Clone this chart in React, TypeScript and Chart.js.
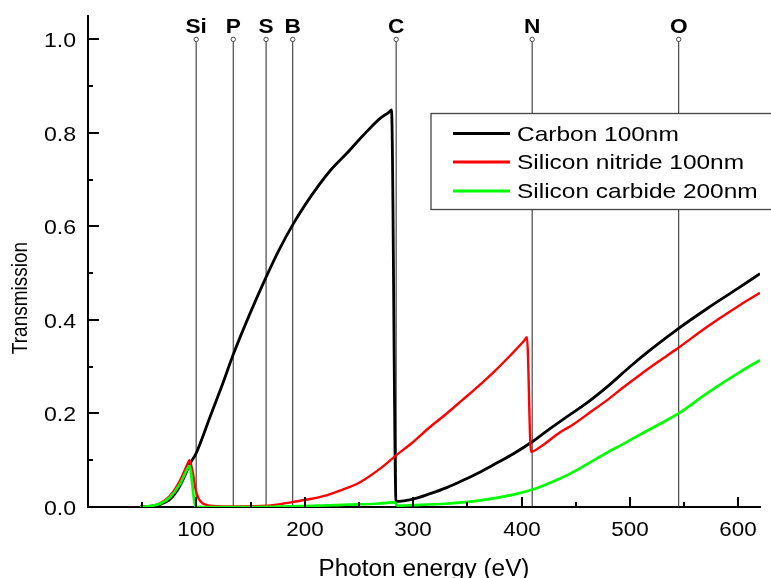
import React, { useEffect, useRef } from "react";
import { Chart, registerables } from "chart.js";

Chart.register(...registerables);

// ---------- data ----------
const carbonE = [48, 60, 66, 75, 82, 88, 94, 99.8, 113, 124, 134, 149.5, 164, 177, 189.5, 200, 212, 223, 239, 254, 269.5, 277.5, 280, 284.2, 300, 315, 331, 346, 362, 377, 392.5, 409.5, 420, 440, 460, 480, 500, 520, 545, 571, 600, 620];
const carbonT = [0, 0.002, 0.005, 0.015, 0.034, 0.06, 0.092, 0.115, 0.195, 0.262, 0.326, 0.414, 0.49, 0.553, 0.606, 0.645, 0.685, 0.718, 0.757, 0.795, 0.831, 0.844, 0.849, 0.012, 0.017, 0.028, 0.0415, 0.057, 0.075, 0.094, 0.114, 0.139, 0.157, 0.19, 0.222, 0.259, 0.3, 0.338, 0.382, 0.424, 0.468, 0.499];

const nitrideE = [48, 60, 66.4, 75.7, 85, 92, 93.5, 97, 99, 102, 106.4, 116, 130, 160, 174, 189.5, 205, 220, 235, 251, 269.5, 284, 300, 315, 331, 345, 360, 375, 390, 402.5, 405, 408.7, 417, 435.6, 448, 463, 478.7, 494, 509.5, 527, 545, 571, 601.7, 620];
const nitrideT = [0, 0.003, 0.008, 0.024, 0.057, 0.093, 0.1, 0.07, 0.04, 0.018, 0.007, 0.002, 0.001, 0.002, 0.005, 0.011, 0.017, 0.025, 0.037, 0.053, 0.082, 0.11, 0.139, 0.17, 0.2, 0.228, 0.258, 0.29, 0.325, 0.356, 0.363, 0.118, 0.128, 0.16, 0.177, 0.202, 0.228, 0.256, 0.283, 0.312, 0.341, 0.385, 0.432, 0.458];

const carbideE = [48, 60, 66.4, 75.7, 85, 92, 93.5, 99.3, 110, 150, 200, 240, 265, 283, 285.5, 300, 330, 362, 392.5, 409.5, 417, 435.6, 448, 463, 478.7, 494, 509.5, 527, 545, 571, 601.7, 620];
const carbideT = [0, 0.003, 0.007, 0.021, 0.05, 0.083, 0.088, 0.001, 0, 0, 0.002, 0.005, 0.007, 0.01, 0.003, 0.004, 0.007, 0.014, 0.0265, 0.037, 0.043, 0.061, 0.075, 0.095, 0.116, 0.135, 0.155, 0.177, 0.2, 0.243, 0.289, 0.314];

const seriesLabels = ["Carbon 100nm", "Silicon nitride 100nm", "Silicon carbide 200nm"];
const seriesColors = ["#000000", "#ff0000", "#00ff00"];

const edgeNames = ["Si", "P", "S", "B", "C", "N", "O"];
const edgeE = [99.8, 134, 164.3, 188.9, 284.3, 409.8, 545];

const xTitle = "Photon energy (eV)";
const yTitle = "Transmission";

const FONT = '"Liberation Sans", Arial, Helvetica, sans-serif';

function toPts(xs: number[], ys: number[]) {
  return xs.map((x, i) => ({ x, y: ys[i] }));
}

function sText(ctx: CanvasRenderingContext2D, text: string, x: number, y: number, align: CanvasTextAlign, sx: number, font: string, color = "#000") {
  ctx.save();
  ctx.translate(x, y);
  ctx.scale(sx, 1);
  ctx.font = font;
  ctx.fillStyle = color;
  ctx.textAlign = align;
  ctx.textBaseline = "alphabetic";
  ctx.fillText(text, 0, 0);
  ctx.restore();
}

const decorPlugin = {
  id: "decor",
  afterDraw(chart: any) {
    const ctx: CanvasRenderingContext2D = chart.ctx;
    const xs = chart.scales.x;
    const ys = chart.scales.y;
    const area = chart.chartArea;
    ctx.save();
    ctx.strokeStyle = "#000";
    ctx.lineWidth = 2;
    // x ticks (inside) + labels
    xs.ticks.forEach((t: any) => {
      const v = t.value;
      if (v <= 0 || v > 620) return;
      const major = Math.round(v) % 100 === 0;
      const px = Math.round(xs.getPixelForValue(v));
      const len = major ? 10 : 5;
      ctx.beginPath();
      ctx.moveTo(px, area.bottom);
      ctx.lineTo(px, area.bottom - len);
      ctx.stroke();
      if (major) sText(ctx, String(Math.round(v)), px, 536, "center", 1.12, `20px ${FONT}`);
    });
    // y ticks (inside) + labels
    ys.ticks.forEach((t: any) => {
      const v = t.value;
      const tenth = Math.round(v * 10);
      if (tenth > 10) return;
      const major = tenth % 2 === 0;
      const py = Math.round(ys.getPixelForValue(v));
      if (tenth > 0) {
        const len = major ? 11 : 5;
        ctx.beginPath();
        ctx.moveTo(area.left, py);
        ctx.lineTo(area.left + len, py);
        ctx.stroke();
      }
      if (major) sText(ctx, (tenth / 10).toFixed(1), 76, py + 7.5, "right", 1.1, `21px ${FONT}`);
    });
    // edge labels
    edgeNames.forEach((n, i) => {
      const px = xs.getPixelForValue(edgeE[i]);
      sText(ctx, n, px, 33, "center", 1.08, `bold 21px ${FONT}`);
    });
    // axis titles
    sText(ctx, xTitle, (area.left + area.right) / 2, 576, "center", 1.035, `23.5px ${FONT}`);
    ctx.save();
    ctx.translate(21, 298);
    ctx.rotate(-Math.PI / 2);
    ctx.scale(1, 1.15);
    ctx.font = `19px ${FONT}`;
    ctx.fillStyle = "#000";
    ctx.textAlign = "center";
    ctx.textBaseline = "middle";
    ctx.fillText(yTitle, 0, 0);
    ctx.restore();
    // legend
    const lx = 431, ly = 113.5, lw = 345, lh = 96;
    ctx.fillStyle = "#fff";
    ctx.fillRect(lx, ly, lw, lh);
    ctx.strokeStyle = "#444";
    ctx.lineWidth = 1.3;
    ctx.strokeRect(lx, ly, lw, lh);
    const rowY = [133.5, 162, 191];
    seriesLabels.forEach((lab, i) => {
      ctx.strokeStyle = seriesColors[i];
      ctx.lineWidth = 3;
      ctx.beginPath();
      ctx.moveTo(453, rowY[i]);
      ctx.lineTo(510, rowY[i]);
      ctx.stroke();
      sText(ctx, lab, 517, rowY[i] + 7, "left", 1.165, `21px ${FONT}`);
    });
    ctx.restore();
  },
};

export default function App() {
  const ref = useRef<HTMLCanvasElement>(null);
  useEffect(() => {
    if (!ref.current) return;
    const edgeSets = edgeE.map((e) => ({
      type: "line" as const,
      data: [{ x: e, y: 0 }, { x: e, y: 1.0 }],
      borderColor: "#222",
      borderWidth: 1,
      pointRadius: [0, 2.2],
      pointBackgroundColor: "#fff",
      pointBorderColor: "#444",
      pointBorderWidth: 1,
      order: 10,
    }));
    const common = { pointRadius: 0, cubicInterpolationMode: "monotone" as const };
    const chart = new Chart(ref.current, {
      type: "line",
      data: {
        datasets: [
          { label: seriesLabels[0], data: toPts(carbonE, carbonT), borderColor: seriesColors[0], borderWidth: 2.8, order: 3, ...common },
          { label: seriesLabels[1], data: toPts(nitrideE, nitrideT), borderColor: seriesColors[1], borderWidth: 2.4, order: 2, ...common },
          { label: seriesLabels[2], data: toPts(carbideE, carbideT), borderColor: seriesColors[2], borderWidth: 2.7, order: 1, ...common },
          ...edgeSets,
        ] as any,
      },
      options: {
        responsive: false,
        animation: false,
        layout: { padding: { left: 0, right: 11, top: 16, bottom: 0 } },
        plugins: { legend: { display: false }, tooltip: { enabled: false } },
        scales: {
          x: {
            type: "linear",
            min: 0,
            max: 620,
            ticks: { display: false, stepSize: 50, includeBounds: false },
            grid: { display: false },
            border: { display: true, color: "#000", width: 2 },
            afterFit: (s: any) => { s.height = 71; },
          },
          y: {
            type: "linear",
            min: 0,
            max: 1.05,
            ticks: { display: false, stepSize: 0.1, includeBounds: false },
            grid: { display: false },
            border: { display: true, color: "#000", width: 2 },
            afterFit: (s: any) => { s.width = 88; },
          },
        },
      } as any,
      plugins: [decorPlugin],
    });
    return () => chart.destroy();
  }, []);
  return (
    <div style={{ position: "absolute", left: 0, top: 0, width: 771, height: 578, background: "#fff" }}>
      <canvas ref={ref} width={771} height={578} style={{ display: "block" }} />
    </div>
  );
}
